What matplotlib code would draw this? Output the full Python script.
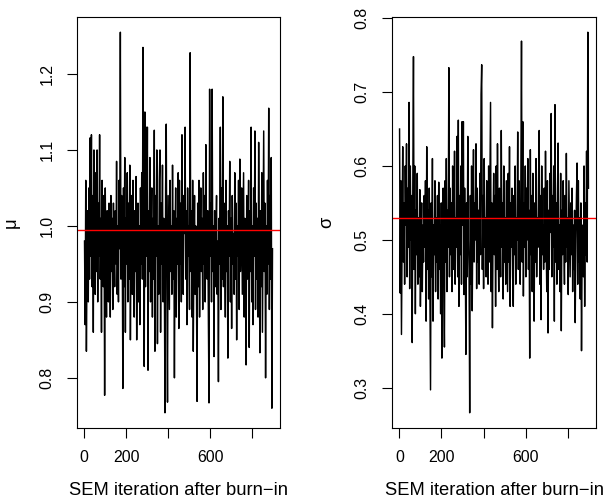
import numpy as np
import matplotlib
matplotlib.use('Agg')
import matplotlib.pyplot as plt

plt.rcParams['font.family'] = ['Liberation Sans', 'DejaVu Sans']

# SEM draws after burn-in (one value every 3 iterations)
mu_draws = [
    0.98, 0.87, 1.06, 0.835, 0.95, 1.02, 0.90, 1.05, 0.93, 1.116,
    0.96, 1.12, 0.92, 1.04, 0.86, 1.10, 0.99, 0.91, 1.07, 0.94,
    1.10, 0.90, 1.03, 0.96, 1.12, 0.93, 1.01, 0.86, 1.06, 0.97,
    0.92, 1.04, 0.777, 1.05, 0.95, 0.88, 1.02, 0.97, 0.90, 1.03,
    0.99, 0.88, 1.04, 0.94, 1.01, 0.89, 1.03, 0.96, 0.92, 1.02,
    0.95, 1.085, 0.91, 1.00, 0.90, 1.06, 0.97, 1.255, 0.93, 1.04,
    0.98, 0.786, 1.05, 0.92, 1.09, 0.86, 1.01, 0.95, 1.07, 0.90,
    1.03, 0.93, 1.08, 0.85, 0.99, 1.04, 0.91, 1.06, 0.96, 0.88,
    1.02, 0.94, 1.065, 0.85, 0.97, 1.03, 0.90, 1.00, 0.87, 1.05,
    0.95, 1.07, 0.93, 1.235, 1.00, 0.815, 1.15, 0.92, 1.13, 0.96,
    1.13, 0.81, 1.02, 0.94, 1.09, 0.90, 0.99, 1.05, 0.88, 1.01,
    0.93, 1.126, 0.835, 1.04, 0.96, 1.10, 0.845, 1.00, 0.91, 1.06,
    1.10, 0.86, 1.03, 0.95, 1.08, 0.90, 1.01, 0.93, 0.754, 1.05,
    1.134, 0.92, 0.768, 1.04, 0.97, 0.89, 1.06, 0.94, 1.00, 0.91,
    1.08, 0.93, 1.02, 0.80, 0.98, 1.05, 0.88, 1.01, 0.95, 1.07,
    0.865, 1.06, 0.95, 1.03, 0.90, 1.12, 0.97, 0.91, 1.04, 0.99,
    1.13, 0.93, 1.02, 0.87, 1.05, 0.96, 1.00, 0.89, 1.228, 0.94,
    1.02, 0.88, 1.06, 0.835, 0.97, 1.04, 0.91, 1.00, 0.93, 0.769,
    1.03, 0.92, 1.06, 0.88, 0.99, 1.05, 0.94, 1.01, 0.89, 1.07,
    0.95, 1.04, 0.90, 1.107, 0.97, 0.93, 1.02, 0.88, 0.767, 1.18,
    0.96, 1.03, 0.90, 1.18, 0.94, 1.00, 0.828, 1.02, 0.92, 0.99,
    1.04, 0.91, 0.98, 0.795, 1.01, 0.95, 1.13, 0.89, 1.05, 0.93,
    1.17, 0.92, 1.03, 0.97, 0.88, 1.06, 0.94, 1.00, 0.826, 1.02,
    0.96, 1.085, 0.90, 1.01, 0.865, 1.04, 0.95, 0.99, 0.91, 1.07,
    0.93, 1.03, 0.85, 1.00, 0.96, 1.06, 0.89, 1.088, 0.94, 0.98,
    1.05, 0.91, 0.99, 1.07, 0.88, 1.01, 0.95, 0.817, 1.04, 0.93,
    0.98, 1.06, 0.84, 1.02, 0.94, 1.13, 0.90, 1.00, 0.87, 1.05,
    0.96, 1.125, 0.89, 1.03, 0.93, 1.01, 0.88, 1.11, 0.95, 0.833,
    1.02, 0.92, 1.07, 0.86, 0.99, 1.125, 0.94, 1.03, 0.80, 1.00,
    0.91, 1.06, 0.95, 1.155, 0.89, 1.04, 0.93, 1.09, 0.76, 0.97,
]

sigma_draws = [
    0.65, 0.428, 0.58, 0.372, 0.51, 0.626, 0.47, 0.55, 0.44, 0.60,
    0.52, 0.63, 0.45, 0.57, 0.49, 0.686, 0.434, 0.60, 0.50, 0.56,
    0.361, 0.58, 0.748, 0.46, 0.60, 0.40, 0.54, 0.48, 0.59, 0.44,
    0.53, 0.45, 0.568, 0.41, 0.50, 0.55, 0.43, 0.52, 0.47, 0.56,
    0.49, 0.58, 0.39, 0.626, 0.46, 0.54, 0.42, 0.57, 0.44, 0.297,
    0.55, 0.45, 0.61, 0.39, 0.52, 0.48, 0.58, 0.43, 0.53, 0.47,
    0.56, 0.42, 0.578, 0.46, 0.52, 0.40, 0.55, 0.34, 0.50, 0.57,
    0.44, 0.355, 0.58, 0.47, 0.61, 0.43, 0.54, 0.49, 0.733, 0.45,
    0.57, 0.48, 0.55, 0.43, 0.60, 0.50, 0.46, 0.62, 0.44, 0.53,
    0.49, 0.64, 0.45, 0.662, 0.41, 0.56, 0.48, 0.60, 0.44, 0.66,
    0.52, 0.66, 0.426, 0.57, 0.48, 0.345, 0.55, 0.45, 0.64, 0.50,
    0.46, 0.266, 0.56, 0.44, 0.60, 0.404, 0.53, 0.622, 0.47, 0.55,
    0.50, 0.63, 0.434, 0.57, 0.47, 0.54, 0.44, 0.59, 0.48, 0.697,
    0.737, 0.46, 0.56, 0.434, 0.61, 0.49, 0.53, 0.45, 0.58, 0.50,
    0.44, 0.60, 0.47, 0.57, 0.686, 0.43, 0.55, 0.381, 0.52, 0.59,
    0.48, 0.56, 0.41, 0.60, 0.46, 0.63, 0.50, 0.43, 0.57, 0.52,
    0.45, 0.648, 0.49, 0.55, 0.42, 0.60, 0.47, 0.53, 0.44, 0.58,
    0.51, 0.43, 0.59, 0.47, 0.626, 0.41, 0.55, 0.49, 0.57, 0.45,
    0.41, 0.56, 0.48, 0.60, 0.44, 0.53, 0.50, 0.646, 0.46, 0.58,
    0.52, 0.44, 0.58, 0.769, 0.47, 0.66, 0.424, 0.55, 0.49, 0.60,
    0.45, 0.57, 0.50, 0.61, 0.46, 0.54, 0.34, 0.622, 0.48, 0.56,
    0.43, 0.59, 0.51, 0.39, 0.55, 0.47, 0.61, 0.45, 0.53, 0.49,
    0.58, 0.648, 0.44, 0.56, 0.392, 0.60, 0.48, 0.52, 0.46, 0.57,
    0.47, 0.62, 0.50, 0.43, 0.58, 0.374, 0.54, 0.46, 0.59, 0.51,
    0.671, 0.45, 0.56, 0.49, 0.60, 0.39, 0.683, 0.47, 0.55, 0.44,
    0.57, 0.631, 0.46, 0.52, 0.43, 0.59, 0.377, 0.54, 0.48, 0.58,
    0.50, 0.44, 0.56, 0.47, 0.617, 0.49, 0.53, 0.426, 0.58, 0.51,
    0.45, 0.55, 0.48, 0.57, 0.43, 0.52, 0.46, 0.54, 0.388, 0.50,
    0.56, 0.604, 0.44, 0.58, 0.47, 0.53, 0.42, 0.55, 0.35, 0.49,
    0.52, 0.45, 0.60, 0.41, 0.55, 0.48, 0.62, 0.47, 0.781, 0.57,
]

mu_hat = 0.995
sigma_hat = 0.529

x_ticks = [0, 200, 400, 600, 800]
x_tick_labels = ['0', '200', '', '600', '']   # R drops the overlapping ones
mu_ticks = [0.8, 0.9, 1.0, 1.1, 1.2]
mu_tick_labels = ['0.8', '0.9', '1.0', '1.1', '1.2']
sigma_ticks = [0.3, 0.4, 0.5, 0.6, 0.7, 0.8]
sigma_tick_labels = ['0.3', '0.4', '0.5', '0.6', '0.7', '0.8']

iters = np.arange(1, 3 * len(mu_draws), 3)


def trace_panel(ax, draws, est, yticks, ylabels, ylab):
    ax.plot(iters, draws, color='black', lw=1.05)
    ax.axhline(est, color='red', lw=1.0)
    ax.margins(x=0.04, y=0.04)
    ax.set_xticks(x_ticks)
    ax.set_xticklabels(x_tick_labels)
    ax.set_yticks(yticks)
    ax.set_yticklabels(ylabels, rotation=90, va='center')
    ax.tick_params(direction='out', length=7.2, width=0.8, labelsize=11.4, pad=9)
    for sp in ax.spines.values():
        sp.set_linewidth(0.8)
    ax.set_xlabel('SEM iteration after burn\u2212in', fontsize=13.2, labelpad=12)
    ax.set_ylabel(ylab, fontsize=13.2, labelpad=14)


fig = plt.figure(figsize=(6.13, 5.0), dpi=100)
ax1 = fig.add_axes([0.1256, 0.144, 0.3312, 0.822])
ax2 = fig.add_axes([0.6395, 0.144, 0.3328, 0.822])

trace_panel(ax1, mu_draws, mu_hat, mu_ticks, mu_tick_labels, '\u03bc')
trace_panel(ax2, sigma_draws, sigma_hat, sigma_ticks, sigma_tick_labels, '\u03c3')

fig.savefig('out.png', dpi=100)
